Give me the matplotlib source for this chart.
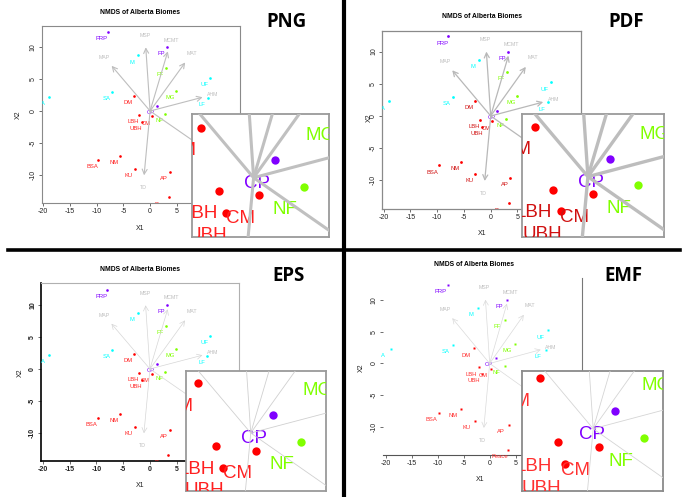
import matplotlib
matplotlib.use('Agg')
import matplotlib.pyplot as plt

####################################################################################

plt.rcParams['font.family'] = ['Liberation Sans', 'DejaVu Sans']
plt.rcParams['axes.unicode_minus'] = False

FIG_W, FIG_H = 686, 497
DPI = 100

# rainbow(4) as used by R
GROUP_COLOURS = {'red': '#FF0000', 'green': '#80FF00', 'cyan': '#00FFFF', 'purple': '#8000FF'}

####################################################################################
# NMDS site scores

site_labels = ['PRP', 'FP', 'CP',
               'FF', 'MG', 'NF',
               'A', 'M', 'SA', 'UF', 'LF',
               'DM', 'LBH', 'CM', 'UBH', 'BSA', 'NM', 'KU', 'AP', 'Peace']
site_x = [-7.94, 3.25, 1.25,
          3.00, 4.88, 2.87,
          -18.94, -2.19, -7.06, 11.25, 10.75,
          -3.00, -2.00, 0.31, -1.56, -9.75, -5.56, -2.87, 3.69, 3.44]
site_y = [12.37, 10.00, 0.84,
          6.79, 3.11, -0.42,
          2.26, 8.74, 2.95, 5.21, 2.10,
          2.37, -0.63, -0.84, -1.66, -7.69, -7.10, -9.05, -9.63, -13.58]
site_group = ['purple'] * 3 + ['green'] * 3 + ['cyan'] * 5 + ['red'] * 9

# envfit vectors
env_labels = ['MSP', 'MCMT', 'MAT', 'MAP', 'AHM', 'TD', 'PAS']
env_x = [-0.81, 3.31, 6.56, -7.19, 9.81, -1.12, 9.8]
env_y = [10.00, 9.37, 7.63, 7.10, 2.16, -10.10, -5.7]
ENV_LABEL_SCALE = 1.19

x_ticks = [-20, -15, -10, -5, 0, 5, 10, 15]
y_ticks = [-10, -5, 0, 5, 10]

####################################################################################

STYLES = {
    'png': dict(spines={'left': ('#8a8a8a', 0.8), 'bottom': ('#8a8a8a', 0.8),
                        'top': ('#8a8a8a', 0.8), 'right': ('#8a8a8a', 0.8)},
                arrow_c='#BEBEBE', arrow_lw=0.8, marker='o', ms=1.9, red_text='#FF2020',
                in_line_c='#C0C0C0', in_line_lw=2.2, in_frame='#9a9a9a', tick_bold=False,
                offset=(-4.3, -4.8), in_offset=(-13.5, -16.6)),
    'pdf': dict(spines={'left': ('#8a8a8a', 0.9), 'bottom': ('#8a8a8a', 0.9),
                        'top': ('#8a8a8a', 0.9), 'right': ('#8a8a8a', 0.9)},
                arrow_c='#B8B8B8', arrow_lw=0.9, marker='o', ms=2.0, red_text='#D01010',
                in_line_c='#BDBDBD', in_line_lw=2.4, in_frame='#9a9a9a', tick_bold=False,
                offset=(-4.3, -4.8), in_offset=(-13.5, -16.6)),
    'eps': dict(spines={'left': ('#000000', 1.2), 'bottom': ('#000000', 1.2),
                        'top': ('#b0b0b0', 0.8), 'right': ('#b0b0b0', 0.8)},
                arrow_c='#D6D6D6', arrow_lw=0.5, marker='o', ms=1.9, red_text='#FF2020',
                in_line_c='#D0D0D0', in_line_lw=0.6, in_frame='#9a9a9a', tick_bold=True,
                offset=(-4.3, -4.8), in_offset=(-13.5, -16.6)),
    'emf': dict(spines={'bottom': ('#555555', 0.8), 'right': ('#777777', 0.8)},
                arrow_c='#DADADA', arrow_lw=0.5, marker='s', ms=2.1, red_text='#FF3030',
                in_line_c='#D5D5D5', in_line_lw=0.6, in_frame='#8a8a8a', tick_bold=False,
                offset=(-5.6, -4.9), in_offset=(-17.0, -17.3)),
}

PANELS = [
    dict(tag='PNG', style='png', box=(42, 26, 240, 203), xlim=(-20.2, 16.8), ylim=(-14.45, 13.35),
         inset=(191.7, 114.3, 329.3, 237.3), ixlim=(-3.54, 4.33), iylim=(-2.84, 3.02),
         title=(140, 13), tag_pos=(286.7, 21.7), x1=(140, 228.3), x2=(18.3, 115)),
    dict(tag='PDF', style='pdf', box=(382.3, 31, 581.3, 209.3), xlim=(-20.26, 16.93), ylim=(-14.5, 13.2),
         inset=(522.3, 114.3, 663.7, 237.3), ixlim=(-3.75, 4.33), iylim=(-2.89, 2.97),
         title=(482, 16.7), tag_pos=(625.7, 21.7), x1=(482.3, 233.3), x2=(369, 117.3)),
    dict(tag='EPS', style='eps', box=(41.3, 283, 239.3, 461.3), xlim=(-20.3, 16.7), ylim=(-14.5, 13.5),
         inset=(186, 371.3, 326, 490.7), ixlim=(-3.70, 4.30), iylim=(-2.75, 2.94),
         title=(140.3, 269.7), tag_pos=(288.3, 276.3), x1=(140, 485.3), x2=(20, 373)),
    dict(tag='EMF', style='emf', box=(383, 278, 582.3, 455.3), xlim=(-20.5, 17.8), ylim=(-14.4, 13.4),
         inset=(522.3, 370.7, 663, 491.3), ixlim=(-3.98, 3.92), iylim=(-2.91, 2.70),
         title=(474, 264.7), tag_pos=(623, 276.3), x1=(480.3, 479.7), x2=(361.3, 368)),
]

####################################################################################

def px_axes(figure, box):
    left, top, right, bottom = box
    return figure.add_axes([left / FIG_W, 1 - bottom / FIG_H,
                            (right - left) / FIG_W, (bottom - top) / FIG_H])

def fig_xy(x, y):
    return x / FIG_W, 1 - y / FIG_H

def near_view(axes, x, y, margin):
    x0, x1 = axes.get_xlim()
    y0, y1 = axes.get_ylim()
    return x0 - margin < x < x1 + margin and y0 - margin < y < y1 + margin

def draw_sites(axes, style, marker, ms, fontsize, offset, clip, margin):
    for name, x, y, grp in zip(site_labels, site_x, site_y, site_group):
        col = GROUP_COLOURS[grp]
        axes.plot(x, y, marker, color=col, ms=ms, mec='none', zorder=2)
        if not near_view(axes, x, y, margin):
            continue
        text_col = style['red_text'] if grp == 'red' else col
        axes.annotate(name, (x, y), xytext=offset, textcoords='offset points',
                      ha='center', va='center', color=text_col, fontsize=fontsize,
                      annotation_clip=False, clip_on=clip, zorder=3)

def draw_main(figure, panel):
    style = STYLES[panel['style']]
    axes = px_axes(figure, panel['box'])
    axes.set_xlim(panel['xlim'])
    axes.set_ylim(panel['ylim'])

    for side in ['left', 'bottom', 'top', 'right']:
        if side in style['spines']:
            col, lw = style['spines'][side]
            axes.spines[side].set_color(col)
            axes.spines[side].set_linewidth(lw)
        else:
            axes.spines[side].set_visible(False)

    axes.set_xticks(x_ticks)
    axes.set_yticks(y_ticks)
    axes.tick_params(labelsize=5, length=2.2, width=0.6, pad=1.5,
                     color='#555555', labelcolor='#222222')
    axes.tick_params(axis='y', labelrotation=90)
    for lab in axes.get_yticklabels():
        lab.set_va('center')
    if style['tick_bold']:
        for lab in axes.get_xticklabels() + axes.get_yticklabels():
            lab.set_fontweight('bold')

    draw_sites(axes, style, style['marker'], style['ms'], 4.2, style['offset'],
               panel['style'] != 'emf', 3.0)

    for name, x, y in zip(env_labels, env_x, env_y):
        axes.annotate('', xy=(x, y), xytext=(0, 0),
                      arrowprops=dict(arrowstyle='->,head_length=0.35,head_width=0.18',
                                      color=style['arrow_c'], lw=style['arrow_lw'],
                                      shrinkA=0, shrinkB=0, mutation_scale=10),
                      zorder=4)
        axes.annotate(name, (x * ENV_LABEL_SCALE, y * ENV_LABEL_SCALE), ha='center', va='center',
                      color='#BEBEBE', fontsize=3.8, annotation_clip=False, clip_on=True, zorder=3)

    tx, ty = fig_xy(*panel['title'])
    figure.text(tx, ty, 'NMDS of Alberta Biomes', ha='center', va='center',
                fontsize=4.9, fontweight='bold')
    lx, ly = fig_xy(*panel['x1'])
    figure.text(lx, ly, 'X1', ha='center', va='center', fontsize=5, color='#222222')
    lx, ly = fig_xy(*panel['x2'])
    figure.text(lx, ly, 'X2', ha='center', va='center', fontsize=5, color='#222222', rotation=90)

    gx, gy = fig_xy(*panel['tag_pos'])
    figure.text(gx, gy, panel['tag'], ha='center', va='center', fontsize=13.4,
                fontweight='bold', family='Open Sans')

def draw_inset(figure, panel):
    style = STYLES[panel['style']]
    axes = px_axes(figure, panel['inset'])
    axes.set_xlim(panel['ixlim'])
    axes.set_ylim(panel['iylim'])
    axes.set_xticks([])
    axes.set_yticks([])
    for side in axes.spines.values():
        side.set_color(style['in_frame'])
        side.set_linewidth(1.3)

    draw_sites(axes, style, 'o', 6.0, 13.5, style['in_offset'], True, 1.5)
    for x, y in zip(env_x, env_y):
        axes.plot([0, x], [0, y], color=style['in_line_c'], lw=style['in_line_lw'],
                  solid_capstyle='butt', zorder=4)

####################################################################################

figure = plt.figure(figsize=(FIG_W / DPI, FIG_H / DPI), dpi=DPI, facecolor='white')

for panel in PANELS:
    draw_main(figure, panel)
    draw_inset(figure, panel)

# black dividers between the four panels
figure.add_artist(plt.Line2D([344 / FIG_W, 344 / FIG_W], [0, 1], color='black', lw=3.0,
                             transform=figure.transFigure))
figure.add_artist(plt.Line2D([8 / FIG_W, 680 / FIG_W], [1 - 249.6 / FIG_H, 1 - 249.6 / FIG_H],
                             color='black', lw=2.6, transform=figure.transFigure))

figure.savefig('out.png', dpi=DPI, facecolor='white')
